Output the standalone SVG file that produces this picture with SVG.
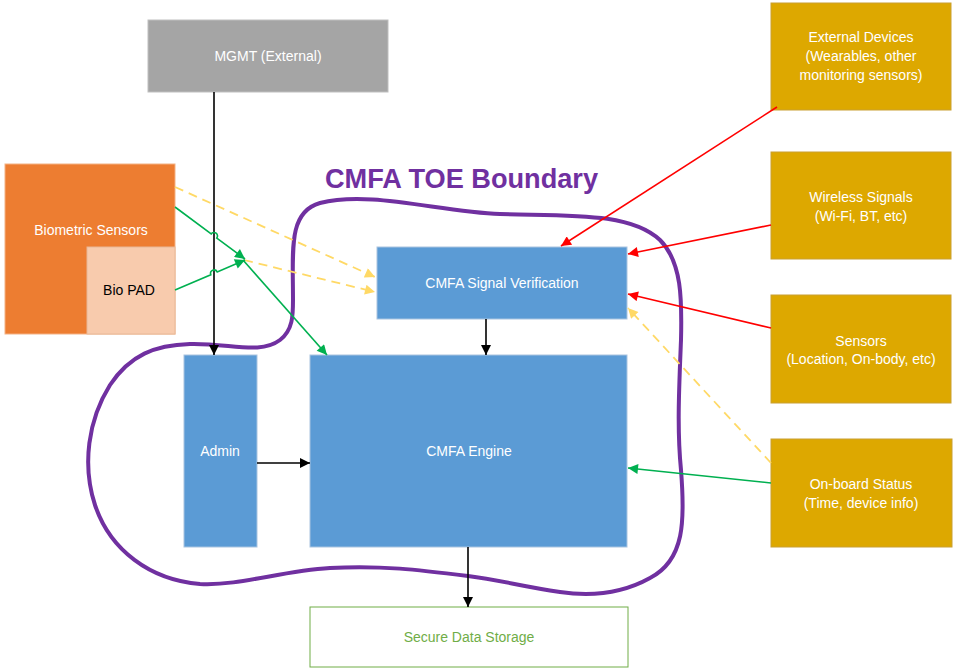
<svg xmlns="http://www.w3.org/2000/svg" width="957" height="668" viewBox="0 0 957 668">
<defs>
<style>
.t{font-family:"Liberation Sans",Arial,sans-serif;font-size:14px;text-anchor:middle;dominant-baseline:central;fill:#ffffff}
.blue{fill:#5B9BD5;stroke:#A9C4E0;stroke-width:1}
.gold{fill:#DDA800;stroke:#C9A032;stroke-width:1}
.blk{stroke:#000;stroke-width:1.6;fill:none}
.red{stroke:#FF0000;stroke-width:1.6;fill:none}
.grn{stroke:#00B050;stroke-width:1.6;fill:none}
.yel{stroke:#FFD966;stroke-width:1.8;fill:none;stroke-dasharray:9,6}
</style>
<marker id="aB" viewBox="0 0 10 10" refX="10" refY="5" markerWidth="10" markerHeight="10" markerUnits="userSpaceOnUse" orient="auto"><path d="M0,0 L10,5 L0,10 Z" fill="#000"/></marker>
<marker id="aR" viewBox="0 0 10 10" refX="10" refY="5" markerWidth="11" markerHeight="10" markerUnits="userSpaceOnUse" orient="auto"><path d="M0,0 L10,5 L0,10 Z" fill="#FF0000"/></marker>
<marker id="aG" viewBox="0 0 10 10" refX="10" refY="5" markerWidth="11" markerHeight="10" markerUnits="userSpaceOnUse" orient="auto"><path d="M0,0 L10,5 L0,10 Z" fill="#00B050"/></marker>
<marker id="aY" viewBox="0 0 10 10" refX="10" refY="5" markerWidth="11" markerHeight="10" markerUnits="userSpaceOnUse" orient="auto"><path d="M0,0 L10,5 L0,10 Z" fill="#FFD966"/></marker>
</defs>
<rect width="957" height="668" fill="#ffffff"/>

<g id="mgmt">
<rect x="148" y="20" width="240" height="72" fill="#A5A5A5" stroke="#BFBFBF"/>
<text class="t" x="268" y="56">MGMT (External)</text>
</g>
<g id="biometric">
<rect x="5" y="164" width="170" height="170" fill="#ED7D31" stroke="#F4B183"/>
<text class="t" x="91" y="230">Biometric Sensors</text>
</g>
<g id="biopad">
<rect x="87" y="247" width="88" height="87" fill="#F8CBAD" stroke="#E8B898"/>
<text class="t" x="129" y="290" style="fill:#000">Bio PAD</text>
</g>
<g id="signal-verification">
<rect class="blue" x="377" y="247" width="250" height="72"/>
<text class="t" x="502" y="283">CMFA Signal Verification</text>
</g>
<g id="admin">
<rect class="blue" x="184" y="355" width="73" height="192"/>
<text class="t" x="220" y="451">Admin</text>
</g>
<g id="engine">
<rect class="blue" x="310" y="355" width="317" height="192"/>
<text class="t" x="469" y="451">CMFA Engine</text>
</g>
<g id="storage">
<rect x="310" y="607" width="318" height="60" fill="#ffffff" stroke="#70AD47" stroke-width="1"/>
<text class="t" x="469" y="637" style="fill:#70AD47">Secure Data Storage</text>
</g>
<g id="external-devices">
<rect class="gold" x="771" y="3" width="180" height="107"/>
<text class="t" x="861" y="37">External Devices</text>
<text class="t" x="861" y="56">(Wearables, other</text>
<text class="t" x="861" y="75">monitoring sensors)</text>
</g>
<g id="wireless">
<rect class="gold" x="771" y="152" width="180" height="107"/>
<text class="t" x="861" y="197">Wireless Signals</text>
<text class="t" x="861" y="216">(Wi-Fi, BT, etc)</text>
</g>
<g id="sensors">
<rect class="gold" x="771" y="295" width="180" height="108"/>
<text class="t" x="861" y="341">Sensors</text>
<text class="t" x="861" y="359">(Location, On-body, etc)</text>
</g>
<g id="onboard">
<rect class="gold" x="771" y="439" width="181" height="108"/>
<text class="t" x="861" y="484">On-board Status</text>
<text class="t" x="861" y="503">(Time, device info)</text>
</g>

<g id="boundary">
<path d="M293,300 C293,250 288,212 320,203 C370,190 440,212 500,214 C570,216 630,212 660,240 C682,262 682,300 681,340 C679,390 677,430 681,470 C685,520 685,560 650,578 C625,592 595,597 560,592 C520,586 500,580 468,576 C420,570 380,565 330,568 C280,571 240,586 200,584 C150,580 110,550 95,505 C82,465 88,420 110,385 C130,355 155,345 190,344 C230,343 260,355 280,340 C293,330 293,315 293,300 Z" fill="none" stroke="#7030A0" stroke-width="4"/>
<text x="325" y="188" font-family="'Liberation Sans',Arial,sans-serif" font-weight="bold" font-size="27" fill="#7030A0" textLength="273" lengthAdjust="spacingAndGlyphs">CMFA TOE Boundary</text>
</g>

<g id="connectors">
<path class="blk" d="M214,92 L214,355" marker-end="url(#aB)"/>
<path class="blk" d="M257,463 L310,463" marker-end="url(#aB)"/>
<path class="blk" d="M486,319 L486,355" marker-end="url(#aB)"/>
<path class="blk" d="M468,547 L468,607" marker-end="url(#aB)"/>

<path class="red" d="M777,107 L561,246" marker-end="url(#aR)"/>
<path class="red" d="M771,225 L628,254" marker-end="url(#aR)"/>
<path class="red" d="M771,328 L628,294" marker-end="url(#aR)"/>

<path class="yel" d="M771,463 L628,308" marker-end="url(#aY)"/>
<path class="grn" d="M771,483 L628,468" marker-end="url(#aG)"/>

<path class="yel" d="M175,187 L375,277" marker-end="url(#aY)"/>
<path class="yel" d="M244,260 L375,292" marker-end="url(#aY)"/>

<path class="grn" d="M175,207 L211.2,233.9 A3.5,3.5 0 0 1 216.8,238.1 L245,259" marker-end="url(#aG)"/>
<path class="grn" d="M175,290 L210.8,274.7 A3.5,3.5 0 0 1 217.2,271.9 L245,260" marker-end="url(#aG)"/>
<path class="grn" d="M243,260 L327,355" marker-end="url(#aG)"/>
</g>
</svg>
